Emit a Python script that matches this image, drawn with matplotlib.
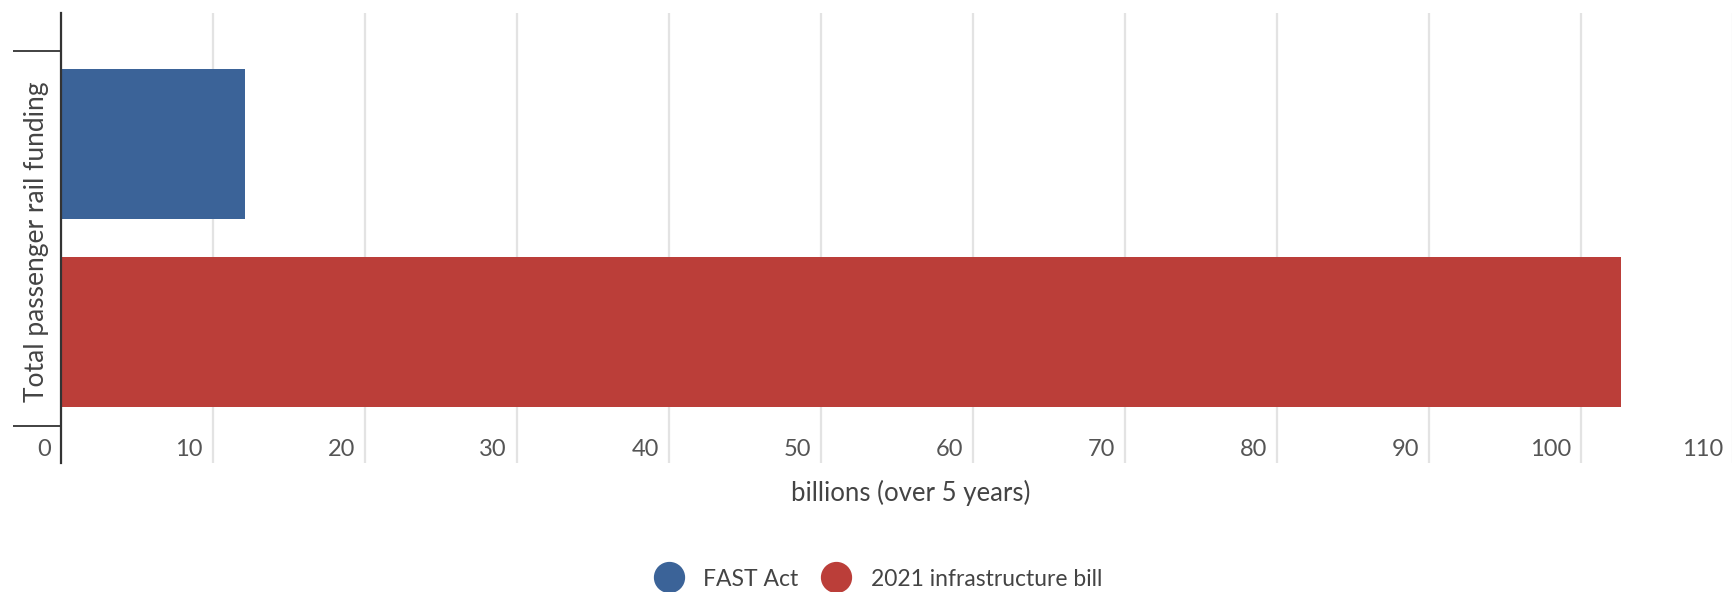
import matplotlib.pyplot as plt
from matplotlib.lines import Line2D
from matplotlib.transforms import blended_transform_factory, ScaledTranslation

plt.rcParams['font.family'] = ['Lato', 'DejaVu Sans']

category = 'Total passenger rail funding'
series = ['FAST Act', '2021 infrastructure bill']
values = [12.1, 102.6]
colors = ['#3b6398', '#bb3e39']
xticks = [0, 10, 20, 30, 40, 50, 60, 70, 80, 90, 100, 110]

W, H = 1733, 592
fig = plt.figure(figsize=(W / 100, H / 100), dpi=100)
ax = fig.add_axes([61 / W, 1 - 463 / H, 1 - 61 / W, 450 / H])

# two bars inside one category band (-0.5 .. 0.5)
ypos = [0.25, -0.25]
ax.barh(ypos, values, height=0.4, color=colors, zorder=3)

ax.set_xlim(0, 109.5)
ax.set_ylim(-0.6, 0.6)

for s in ['top', 'right', 'bottom']:
    ax.spines[s].set_visible(False)
ax.spines['left'].set_color('#333333')
ax.spines['left'].set_linewidth(1.6)
ax.spines['left'].set_zorder(4)

ax.set_xticks(xticks)
ax.grid(axis='x', color='#e3e3e3', linewidth=1.6, zorder=0)
ax.tick_params(axis='x', length=0, labelbottom=False)

# band edges as y ticks
ax.set_yticks([-0.5, 0.5])
ax.set_yticklabels([])
ax.tick_params(axis='y', length=34.5, width=1.3, color='#333333')

# tick labels sit left of each gridline, just above the bottom edge
tr = blended_transform_factory(ax.transData, ax.transAxes)
off = ScaledTranslation(-10 / 100, 0, fig.dpi_scale_trans)
for t in xticks:
    ax.text(t, 14 / 450, str(t), transform=tr + off, ha='right', va='center',
            fontsize=17, color='#555555', clip_on=False)

fig.text(911 / W, 1 - 493 / H, 'billions (over 5 years)', ha='center', va='center',
         fontsize=18.5, color='#444444')
fig.text(37 / W, 1 - 242 / H, category, rotation=90, ha='center', va='center',
         fontsize=19, color='#444444')

handles = [Line2D([], [], marker='o', linestyle='none', markersize=21.5,
                  markerfacecolor=c, markeredgecolor=c) for c in colors]
fig.legend(handles, series, loc='center', bbox_to_anchor=(878 / W, 1 - 579 / H),
           ncol=2, frameon=False, fontsize=16.5, labelcolor='#444444',
           handlelength=1.3, handletextpad=0.85, columnspacing=1.0,
           borderpad=0, borderaxespad=0)

fig.savefig('out.png', dpi=100)
